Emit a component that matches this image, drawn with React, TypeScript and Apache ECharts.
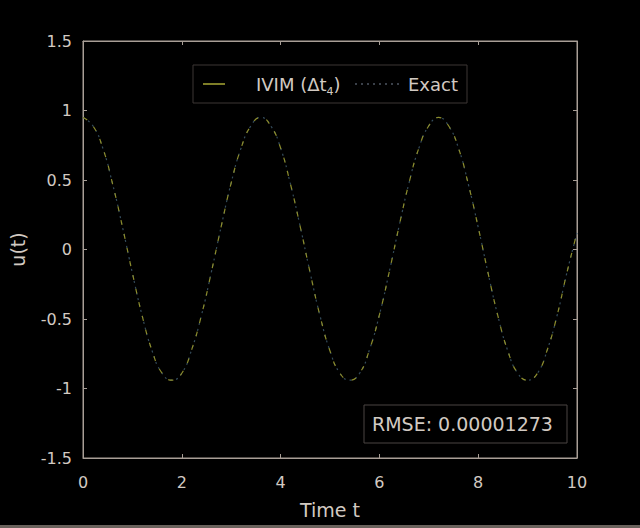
import React, { useEffect, useRef } from "react";
import * as echarts from "echarts";

const tValues = [
  0, 0.2, 0.4, 0.6, 0.8, 1, 1.2, 1.4, 1.6, 1.8,
  2, 2.2, 2.4, 2.6, 2.8, 3, 3.2, 3.4, 3.6, 3.8,
  4, 4.2, 4.4, 4.6, 4.8, 5, 5.2, 5.4, 5.6, 5.8,
  6, 6.2, 6.4, 6.6, 6.8, 7, 7.2, 7.4, 7.6, 7.8,
  8, 8.2, 8.4, 8.6, 8.8, 9, 9.2, 9.4, 9.6, 9.8, 10,
];

const uExact = [
  0.95, 0.89, 0.73, 0.47, 0.16, -0.17, -0.48, -0.73, -0.89, -0.94,
  -0.89, -0.72, -0.47, -0.16, 0.17, 0.48, 0.73, 0.89, 0.95, 0.89,
  0.73, 0.47, 0.16, -0.17, -0.48, -0.73, -0.89, -0.94, -0.89, -0.72,
  -0.47, -0.16, 0.17, 0.48, 0.73, 0.89, 0.95, 0.89, 0.73, 0.47,
  0.16, -0.17, -0.48, -0.73, -0.89, -0.94, -0.89, -0.72, -0.47, -0.16, 0.12,
];

const uIvim = [
  0.95, 0.89, 0.73, 0.47, 0.16, -0.17, -0.48, -0.73, -0.89, -0.94,
  -0.89, -0.72, -0.47, -0.16, 0.17, 0.48, 0.73, 0.89, 0.95, 0.89,
  0.73, 0.47, 0.16, -0.17, -0.48, -0.73, -0.89, -0.94, -0.89, -0.72,
  -0.47, -0.16, 0.17, 0.48, 0.73, 0.89, 0.95, 0.89, 0.73, 0.47,
  0.16, -0.17, -0.48, -0.73, -0.89, -0.94, -0.89, -0.72, -0.47, -0.16, 0.12,
];

const xTicks = { min: 0, max: 10, interval: 2 };
const yTicks = { min: -1.5, max: 1.5, interval: 0.5 };
const seriesNames = ["IVIM (Δt4)", "Exact"];
const rmseText = "RMSE: 0.00001273";

const FONT = "DejaVu Sans";
const TEXT = "#d2cac2";
const AXIS = "#a89e96";
const IVIM_COLOR = "#8c8c2c";
const EXACT_COLOR = "#344c5c";

export default function App() {
  const ref = useRef<HTMLDivElement>(null);

  useEffect(() => {
    if (!ref.current) return;
    const chart = echarts.init(ref.current, undefined, { renderer: "svg" });
    const ivimData = tValues.map((t, i) => [t, uIvim[i]]);
    const exactData = tValues.map((t, i) => [t, uExact[i]]);

    const baseAxisLine = { show: true, onZero: false, lineStyle: { color: AXIS, width: 1 } };
    const baseTick = { show: true, inside: true, length: 4, lineStyle: { color: AXIS } };

    chart.setOption({
      animation: false,
      backgroundColor: "#000000",
      textStyle: { fontFamily: FONT },
      grid: {
        left: 83,
        top: 41,
        right: 63,
        bottom: 70,
        show: true,
        borderColor: AXIS,
        borderWidth: 1,
        backgroundColor: "transparent",
      },
      xAxis: [
        {
          type: "value",
          min: xTicks.min,
          max: xTicks.max,
          interval: xTicks.interval,
          name: "Time t",
          nameLocation: "middle",
          nameGap: 42,
          nameTextStyle: { color: TEXT, fontSize: 19, fontFamily: FONT },
          axisLine: baseAxisLine,
          axisTick: baseTick,
          axisLabel: { color: TEXT, fontSize: 16, fontFamily: FONT, margin: 16 },
          splitLine: { show: false },
        },
        {
          type: "value",
          position: "top",
          min: xTicks.min,
          max: xTicks.max,
          interval: xTicks.interval,
          axisLine: baseAxisLine,
          axisTick: baseTick,
          axisLabel: { show: false },
          splitLine: { show: false },
        },
      ],
      yAxis: [
        {
          type: "value",
          min: yTicks.min,
          max: yTicks.max,
          interval: yTicks.interval,
          name: "u(t)",
          nameLocation: "middle",
          nameGap: 56,
          nameTextStyle: { color: TEXT, fontSize: 19, fontFamily: FONT },
          axisLine: baseAxisLine,
          axisTick: baseTick,
          axisLabel: { color: TEXT, fontSize: 16, fontFamily: FONT, margin: 11 },
          splitLine: { show: false },
        },
        {
          type: "value",
          position: "right",
          min: yTicks.min,
          max: yTicks.max,
          interval: yTicks.interval,
          axisLine: baseAxisLine,
          axisTick: baseTick,
          axisLabel: { show: false },
          splitLine: { show: false },
        },
      ],
      series: [
        {
          name: seriesNames[1],
          type: "line",
          data: exactData,
          smooth: true,
          showSymbol: false,
          lineStyle: { color: EXACT_COLOR, width: 1.2, type: [2, 4] },
          z: 2,
        },
        {
          name: seriesNames[0],
          type: "line",
          data: ivimData,
          smooth: true,
          showSymbol: false,
          lineStyle: { color: IVIM_COLOR, width: 1.2, type: [5, 9] },
          z: 3,
        },
      ],
      graphic: [
        {
          type: "rect",
          shape: { x: 193, y: 65, width: 274, height: 38 },
          style: { fill: "#000000", stroke: "#3c3634", lineWidth: 1 },
          z: 10,
        },
        {
          type: "line",
          shape: { x1: 203, y1: 84, x2: 225, y2: 84 },
          style: { stroke: "#a8a834", lineWidth: 1.5 },
          z: 11,
        },
        {
          type: "text",
          x: 256,
          y: 84,
          style: {
            text: "IVIM (Δt{sub|4})",
            fill: TEXT,
            fontFamily: FONT,
            fontSize: 18,
            verticalAlign: "middle",
            lineHeight: 26,
            rich: {
              sub: { fontSize: 11, fontFamily: FONT, fill: TEXT, verticalAlign: "bottom", lineHeight: 26 },
            },
          },
          z: 11,
        },
        {
          type: "line",
          shape: { x1: 355, y1: 84, x2: 402, y2: 84 },
          style: { stroke: "#4e5662", lineWidth: 1.5, lineDash: [2, 4] },
          z: 11,
        },
        {
          type: "text",
          x: 408,
          y: 84,
          style: {
            text: "Exact",
            fill: TEXT,
            fontFamily: FONT,
            fontSize: 18,
            verticalAlign: "middle",
          },
          z: 11,
        },
        {
          type: "rect",
          shape: { x: 364, y: 405, width: 203, height: 38 },
          style: { fill: "#000000", stroke: "#4a4442", lineWidth: 1 },
          z: 10,
        },
        {
          type: "text",
          x: 372,
          y: 424,
          style: {
            text: rmseText,
            fill: TEXT,
            fontFamily: FONT,
            fontSize: 19,
            verticalAlign: "middle",
          },
          z: 11,
        },
        {
          type: "rect",
          shape: { x: 0, y: 525, width: 640, height: 3 },
          style: { fill: "#6a625c" },
          z: 10,
        },
      ],
    });

    return () => chart.dispose();
  }, []);

  return (
    <div
      ref={ref}
      style={{ position: "fixed", left: 0, top: 0, width: 640, height: 528, background: "#000" }}
    />
  );
}
